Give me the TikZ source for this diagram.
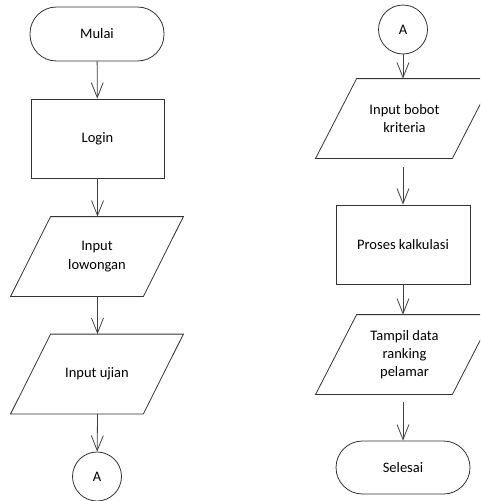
\documentclass[tikz,border=0pt]{standalone}
\usepackage{fontspec}
\setmainfont{Carlito}
\usetikzlibrary{arrows.meta,calc}
\begin{document}
\begin{tikzpicture}[x=1pt,y=-1pt,
  line width=0.8pt,
  every node/.style={font=\fontsize{14.5}{18.3}\selectfont, align=center, inner sep=0pt},
  terminal/.style={draw=black!80, rectangle, rounded corners=26.5pt, minimum width=134pt, minimum height=54pt},
  procbox/.style={draw=black!80, rectangle, minimum width=133pt, minimum height=79pt},
  iobox/.style={rectangle, minimum width=#1, minimum height=79pt},
  conn/.style={draw=black!80, circle, minimum size=49pt},
  flow/.style={draw=black!75, -{Straight Barb[length=15pt,width=12pt,line width=0.8pt]}}
]
\useasboundingbox (0,0) rectangle (480,501);
\clip (0,0) rectangle (480,501);
% left column
\node[terminal] (mulai) at (97,34) {Mulai};
\node[procbox] (login) at (97.5,138.5) {Login};
\node[iobox=172pt] (lowongan) at (97,256.5) {Input\\lowongan};
\node[iobox=172pt] (ujian) at (97,374) {Input ujian};
\node[conn] (a1) at (97,476.5) {A};
% right column
\node[conn] (a2) at (403,29.5) {A};
\node[iobox=177pt] (bobot) at (404.5,118.5) {Input bobot\\kriteria};
\node[procbox, minimum width=134pt] (proses) at (403,244.5) {Proses kalkulasi};
\node[iobox=177pt] (tampil) at (404.5,354.5) {Tampil data\\ranking\\pelamar};
\node[terminal, minimum height=53pt] (selesai) at (403,467.5) {Selesai};
% parallelogram outlines
\foreach \p/\s in {lowongan/40, ujian/40, bobot/41, tampil/41}{
  \draw[black!80] ($(\p.north west)+(\s,0)$) -- (\p.north east) -- ($(\p.south east)-(\s,0)$) -- (\p.south west) -- cycle;
}
% connectors
\draw[flow] (mulai) -- (login);
\draw[flow] (login) -- (login.south |- lowongan.north);
\draw[flow] (login.south |- lowongan.south) -- (login.south |- ujian.north);
\draw[flow] (login.south |- ujian.south) -- (a1);
\draw[flow] (a2) -- (a2.south |- bobot.north);
\draw[flow, shorten <=9pt] (proses.north |- bobot.south) -- (proses);
\draw[flow] (proses) -- (proses.south |- tampil.north);
\draw[flow, shorten <=8pt] (proses.south |- tampil.south) -- (selesai);
\end{tikzpicture}
\end{document}
